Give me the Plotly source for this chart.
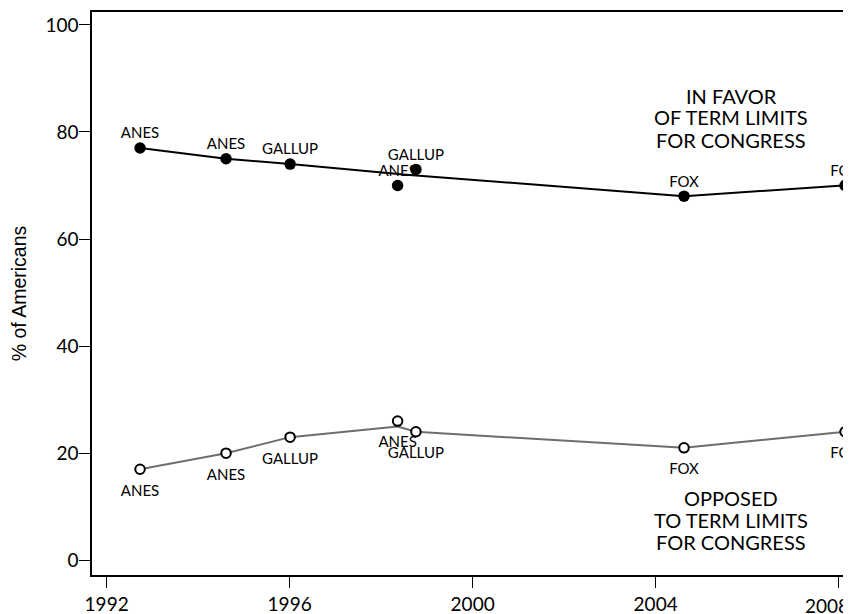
import plotly.graph_objects as go

# ---- data ----
years = [1992.73, 1994.61, 1996.01, 1998.36, 1998.76, 2004.62, 2008.14]
sources = ["ANES", "ANES", "GALLUP", "ANES", "GALLUP", "FOX", "FOX"]
favor = [77, 75, 74, 70, 73, 68, 70]
oppose = [17, 20, 23, 26, 24, 21, 24]

# connecting lines as drawn in the reference
favor_line_years = [1992.73, 1994.61, 1996.01, 1998.55, 2004.62, 2008.14]
favor_line = [77, 75, 74, 72, 68, 70]
oppose_line_years = [1992.73, 1994.61, 1996.01, 1998.36, 1998.76, 2004.62, 2008.14]
oppose_line = [17, 20, 23, 25, 24, 21, 24]

x_ticks = [1992, 1996, 2000, 2004, 2008]
x_tick_labels = ["1992", "1996", "2000", "2004", "2008"]
y_ticks = [0, 20, 40, 60, 80, 100]

favor_label = ["IN FAVOR", "OF TERM LIMITS", "FOR CONGRESS"]
favor_label_y = [86.8, 82.75, 78.5]
oppose_label = ["OPPOSED", "TO TERM LIMITS", "FOR CONGRESS"]
oppose_label_y = [11.6, 7.5, 3.4]
label_x = 2005.65

FONT = "Lato"
GRAY = "rgb(110,110,110)"

fig = go.Figure()

# lines
fig.add_trace(go.Scatter(x=favor_line_years, y=favor_line, mode="lines",
                         line=dict(color="black", width=2), hoverinfo="skip",
                         showlegend=False))
fig.add_trace(go.Scatter(x=oppose_line_years, y=oppose_line, mode="lines",
                         line=dict(color=GRAY, width=2), hoverinfo="skip",
                         showlegend=False))

# source labels (drawn below the markers)
fig.add_trace(go.Scatter(x=years, y=favor, mode="markers+text", text=sources,
                         textposition="top center",
                         textfont=dict(family=FONT, size=15, color="black"),
                         marker=dict(size=7.8, color="rgba(0,0,0,0)"),
                         hoverinfo="skip", showlegend=False))
fig.add_trace(go.Scatter(x=years, y=oppose, mode="markers+text", text=sources,
                         textposition="bottom center",
                         textfont=dict(family=FONT, size=15, color="black"),
                         marker=dict(size=22.6, color="rgba(0,0,0,0)"),
                         hoverinfo="skip", showlegend=False))

# markers
fig.add_trace(go.Scatter(x=years, y=favor, mode="markers",
                         marker=dict(size=11.5, color="black",
                                     line=dict(color="black", width=0)),
                         showlegend=False, name="In favor"))
fig.add_trace(go.Scatter(x=years, y=oppose, mode="markers",
                         marker=dict(size=9.5, color="white",
                                     line=dict(color="black", width=2)),
                         showlegend=False, name="Opposed"))

for txt, yy in zip(favor_label, favor_label_y):
    fig.add_annotation(x=label_x, y=yy, text=txt, showarrow=False,
                       xanchor="center", yanchor="middle",
                       font=dict(family=FONT, size=20, color="black"))
for txt, yy in zip(oppose_label, oppose_label_y):
    fig.add_annotation(x=label_x, y=yy, text=txt, showarrow=False,
                       xanchor="center", yanchor="middle",
                       font=dict(family=FONT, size=20, color="black"))

# last tick label sits at the right edge of the figure: keep it inside
fig.add_annotation(xref="paper", yref="paper", x=1, y=0,
                   xanchor="right", yanchor="middle", yshift=-30,
                   text=x_tick_labels[-1], showarrow=False,
                   font=dict(family=FONT, size=19, color="black"))

# the page body has an 8px margin, so the figure is 8px smaller and offset
fig.update_layout(
    width=843, height=606,
    margin=dict(l=84, r=0, t=4, b=39, pad=0),
    paper_bgcolor="white", plot_bgcolor="white",
    xaxis=dict(range=[1991.68, 2008.27], tickvals=x_ticks,
               ticktext=x_tick_labels[:-1] + [""],
               showgrid=False, zeroline=False,
               showline=True, linecolor="black", linewidth=1.5, mirror=True,
               ticks="outside", ticklen=11, tickwidth=1, tickcolor="black",
               tickfont=dict(family=FONT, size=19, color="black")),
    yaxis=dict(range=[-2.75, 102.4], tickvals=y_ticks,
               showgrid=False, zeroline=False,
               showline=True, linecolor="black", linewidth=1.5,
               ticks="outside", ticklen=11, tickwidth=1, tickcolor="black",
               ticklabelstandoff=-3,
               tickfont=dict(family=FONT, size=19, color="black"),
               title=dict(text="% of Americans", standoff=14,
                          font=dict(family="Liberation Sans", size=19.5,
                                    color="black"))),
)

fig.write_html("out.html")
